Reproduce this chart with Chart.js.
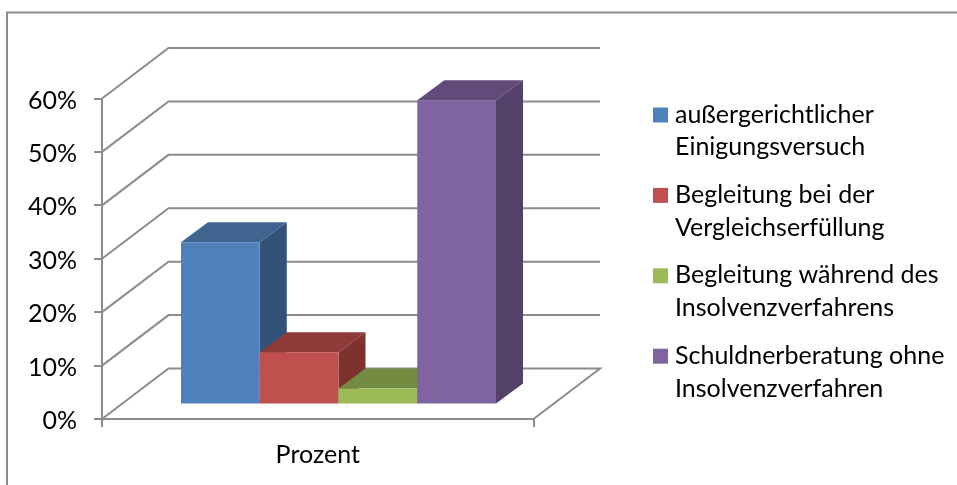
<!DOCTYPE html>
<html><head><meta charset="utf-8">
<style>html,body{margin:0;padding:0;background:#fff}canvas{display:block;filter:blur(0.35px)}</style>
<script src="https://cdn.jsdelivr.net/npm/chart.js@4"></script></head>
<body><canvas id="c" width="957" height="485"></canvas>
<script>
const categories = ["Prozent"];
const seriesLines = [
  ["außergerichtlicher", "Einigungsversuch"],
  ["Begleitung bei der", "Vergleichserfüllung"],
  ["Begleitung während des", "Insolvenzverfahrens"],
  ["Schuldnerberatung ohne", "Insolvenzverfahren"]
];
const aussergerichtlich = [30.4];
const vergleich = [9.8];
const insolvenz = [3];
const schuldnerberatung = [57];
const frontColors = ["#4F81BD", "#C0504D", "#9BBB59", "#8064A2"];
const topColors = ["#3F6490", "#8E3A38", "#748C42", "#604B7A"];
const sideColors = ["#335279", "#7D3230", "#657A3A", "#534169"];
const seriesValues = [aussergerichtlich, vergleich, insolvenz, schuldnerberatung];

const LINE = "#8C8C8C", FAMILY = "Lato, Carlito, sans-serif", SIZE = 25, TEXT = "#000";
const WALL = {dx: 66.5, dy: -50.5}, BAR = {dx: 27, dy: -20}, INSET = {dx: 20.75, dy: -14.4};
const LEGEND = {swatchX: 653, swatchSize: 15, textX: 675, firstBaseline: 122.5, lineStep: 32.8, itemStep: 80.4};
const TICK_LABEL_SHIFT = 2;
let tickLabelsShifted = false;

const scene = {
  id: "scene",
  beforeDraw(chart) {
    const c = chart.ctx;
    c.save();
    c.fillStyle = "#fff"; c.fillRect(0, 0, chart.width, chart.height);
    c.strokeStyle = LINE; c.lineWidth = 2;
    c.beginPath();
    c.moveTo(7, chart.height); c.lineTo(7, 12.5); c.lineTo(chart.width, 12.5);
    c.stroke();
    c.restore();
    if (!tickLabelsShifted) {
      chart.scales.y.getLabelItems().forEach(it => { it.options.translation[1] += TICK_LABEL_SHIFT; });
      tickLabelsShifted = true;
    }
  },
  beforeDatasetsDraw(chart) {
    const c = chart.ctx, y = chart.scales.y, a = chart.chartArea;
    c.save();
    c.strokeStyle = LINE; c.lineWidth = 2;
    y.ticks.forEach(t => {
      const p = y.getPixelForValue(t.value);
      c.beginPath();
      c.moveTo(a.left, p);
      c.lineTo(a.left + WALL.dx, p + WALL.dy);
      c.lineTo(a.right + WALL.dx, p + WALL.dy);
      if (t.value === 0) c.lineTo(a.right, p);
      c.stroke();
    });
    chart.data.datasets.forEach((ds, i) => {
      const meta = chart.getDatasetMeta(i);
      const el = meta.data[0];
      const l = el.x - el.width / 2, r = el.x + el.width / 2;
      c.save();
      c.translate(INSET.dx, INSET.dy);
      c.fillStyle = sideColors[i];
      c.beginPath();
      c.moveTo(r, el.y); c.lineTo(r + BAR.dx, el.y + BAR.dy);
      c.lineTo(r + BAR.dx, el.base + BAR.dy); c.lineTo(r, el.base);
      c.closePath(); c.fill();
      c.fillStyle = topColors[i];
      c.beginPath();
      c.moveTo(l, el.y); c.lineTo(l + BAR.dx, el.y + BAR.dy);
      c.lineTo(r + BAR.dx, el.y + BAR.dy); c.lineTo(r, el.y);
      c.closePath(); c.fill();
      meta.controller.draw();
      c.restore();
    });
    c.restore();
    return false;
  },
  afterDraw(chart) {
    const c = chart.ctx;
    c.save();
    c.font = SIZE + "px " + FAMILY; c.textBaseline = "alphabetic"; c.textAlign = "left";
    seriesLines.forEach((lines, i) => {
      const base = LEGEND.firstBaseline + i * LEGEND.itemStep;
      c.fillStyle = frontColors[i];
      c.fillRect(LEGEND.swatchX, base - LEGEND.swatchSize, LEGEND.swatchSize, LEGEND.swatchSize);
      c.fillStyle = TEXT;
      lines.forEach((s, k) => c.fillText(s, LEGEND.textX, base + k * LEGEND.lineStep));
    });
    c.restore();
  }
};

new Chart(document.getElementById("c"), {
  type: "bar",
  data: {
    labels: categories,
    datasets: seriesValues.map((v, i) => ({
      label: seriesLines[i].join(" "),
      data: v,
      backgroundColor: frontColors[i],
      borderWidth: 0,
      categoryPercentage: 0.73,
      barPercentage: 1
    }))
  },
  options: {
    responsive: false,
    animation: false,
    layout: {padding: {top: 98.5, right: 423.5, left: 0, bottom: 0}},
    plugins: {legend: {display: false}, tooltip: {enabled: false}, title: {display: false}},
    scales: {
      x: {
        afterFit: s => { s.height = 66; },
        border: {color: LINE, width: 2},
        grid: {drawOnChartArea: false, drawTicks: true, tickLength: 8, color: LINE, lineWidth: 2},
        ticks: {color: TEXT, font: {family: FAMILY, size: SIZE}, padding: 13, maxRotation: 0}
      },
      y: {
        min: 0, max: 60,
        afterFit: s => { s.width = 102; },
        border: {color: LINE, width: 2},
        grid: {drawOnChartArea: false, drawTicks: true, tickLength: 8, color: LINE, lineWidth: 2},
        ticks: {stepSize: 10, color: TEXT, font: {family: FAMILY, size: SIZE}, padding: 17, callback: v => v + "%"}
      }
    }
  },
  plugins: [scene]
});
</script></body></html>
